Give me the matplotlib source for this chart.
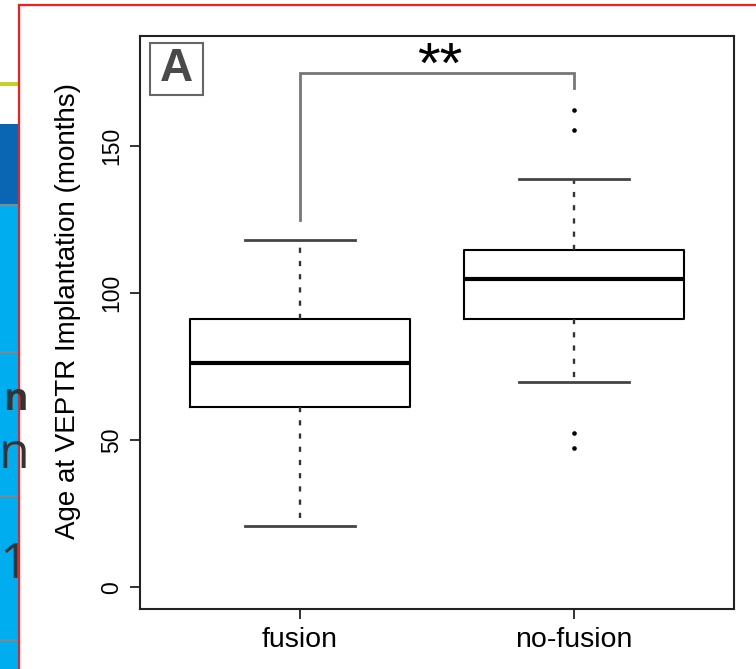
import matplotlib
matplotlib.use("Agg")
import matplotlib.pyplot as plt
from matplotlib.patches import Rectangle

# ---- data ----
groups = ["fusion", "no-fusion"]
whislo = [20.8, 69.8]
q1 = [61.2, 91.3]
med = [76.3, 104.6]
q3 = [91.2, 114.6]
whishi = [117.8, 138.5]
fliers = [[], [162.2, 155.2, 52.5, 47.2]]
y_ticks = [0, 50, 100, 150]
bracket_top = 174.7
bracket_left_end = 124.7
bracket_right_end = 169.4
sig_label = "**"
sig_y = 171.3
y_label = "Age at VEPTR Implantation (months)"
panel_label = "A"

plt.rcParams['font.family'] = ['Liberation Sans', 'DejaVu Sans']

W, H = 756, 669
fig = plt.figure(figsize=(W / 100, H / 100), dpi=100)

# ---- decorative screenshot background (left strip, red frame) ----
bg = fig.add_axes([0, 0, 1, 1], zorder=-5)
bg.set_xlim(0, W)
bg.set_ylim(H, 0)
bg.axis('off')
bg.add_patch(Rectangle((0, 82), 18, 4, color='#c3d12a', lw=0))
bg.add_patch(Rectangle((0, 124), 18, 82, color='#0a66b3', lw=0))
bg.add_patch(Rectangle((0, 206), 18, H - 206, color='#00aeef', lw=0))
for yy in [205, 352, 496, 640]:
    bg.plot([0, 18], [yy, yy], color='#7f8a90', lw=1.5)
strip_clip = Rectangle((0, 0), 18, H, transform=bg.transData)
for txt, yy, fs, fw, xx in [("n", 400, 27, 'bold', 3), ("n", 455, 36, 'normal', -1), ("1", 565, 36, 'normal', -1)]:
    t = bg.text(xx, yy, txt, fontsize=fs, fontweight=fw, color='#333333', ha='left', va='center',
                fontfamily=['Open Sans', 'DejaVu Sans'])
    t.set_clip_path(strip_clip)
bg.plot([18.5, 18.5], [5, H], color='#ff1a1a', lw=1.6)
bg.plot([18.5, W], [5, 5], color='#ff1a1a', lw=1.6)

# ---- main chart ----
ax = fig.add_axes([140.3 / W, 1 - 608.7 / H, (734 - 140.3) / W, (608.7 - 36) / H])
stats = []
for i, g in enumerate(groups):
    stats.append(dict(label=g, whislo=whislo[i], q1=q1[i], med=med[i],
                      q3=q3[i], whishi=whishi[i], fliers=fliers[i]))
ax.bxp(stats, positions=[1, 2], widths=0.8, capwidths=0.4, showfliers=True,
       boxprops=dict(color='black', linewidth=1.5),
       medianprops=dict(color='black', linewidth=3),
       whiskerprops=dict(color='#333333', linewidth=1.7, linestyle=(0, (2.2, 3.4))),
       capprops=dict(color='#444444', linewidth=2),
       flierprops=dict(marker='o', markersize=2.3, markerfacecolor='black',
                       markeredgecolor='black', linestyle='none'))

ax.set_xlim(0.417, 2.584)
ax.set_ylim(-7.2, 187.2)
ax.set_yticks(y_ticks)
ax.set_xticks([1, 2])
ax.set_xticklabels(groups)
ax.tick_params(axis='y', length=7.2, width=1.3, labelsize=16.5, pad=5, labelrotation=90, color='#222')
ax.tick_params(axis='x', length=7.2, width=1.3, labelsize=20.5, pad=6, color='#222')
for lbl in ax.get_yticklabels():
    lbl.set_va('center')
for sp in ax.spines.values():
    sp.set_linewidth(1.5)
    sp.set_color('#222222')

ax.set_ylabel(y_label, fontsize=20)
ax.yaxis.set_label_coords((68 - 140.3) / 593.7, (608.7 - 311) / 572.7)
ax.yaxis.label.set_va('center')

# significance bracket
ax.plot([1, 1, 2, 2], [bracket_left_end, bracket_top, bracket_top, bracket_right_end],
        color='#777777', lw=2, solid_joinstyle='miter')
ax.text(1.51, sig_y, sig_label, fontsize=42, ha='center', va='baseline', color='black')

# panel label
ax.add_patch(Rectangle(((150 - 140.3) / 593.7, (608.7 - 95) / 572.7), 53 / 593.7, 52 / 572.7,
                       transform=ax.transAxes, fill=False, edgecolor='#666666', lw=1.5))
ax.text((176.5 - 140.3) / 593.7, (608.7 - 69) / 572.7, panel_label, transform=ax.transAxes,
        fontsize=33, fontweight='bold', color='#4a4a4a', ha='center', va='center')

fig.savefig("out.png", dpi=100)
